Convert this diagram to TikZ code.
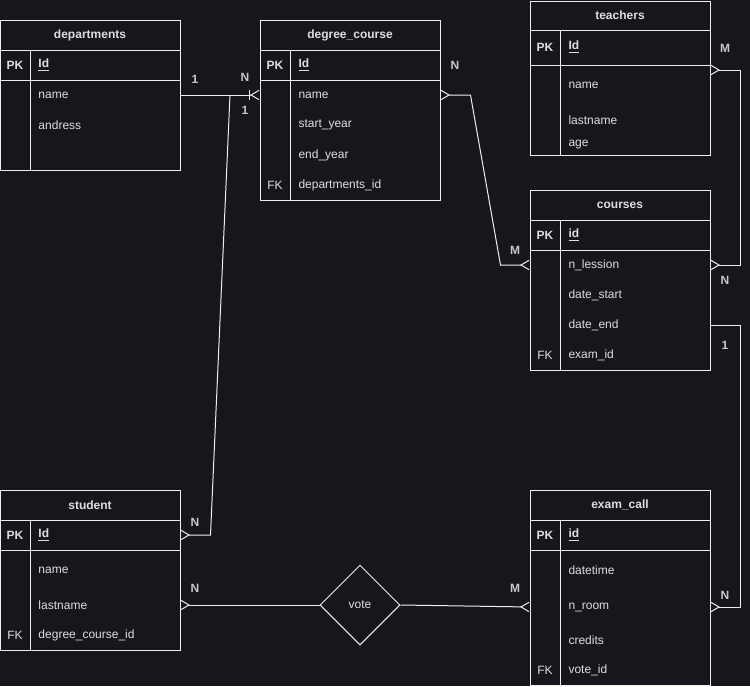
\documentclass[tikz,border=0pt]{standalone}
\usepackage{fontspec}
\setmainfont{Liberation Sans}
\usetikzlibrary{arrows.meta,positioning,fit,shapes.geometric}

\definecolor{bg}{RGB}{24,22,29}
\definecolor{ink}{RGB}{238,238,238}
\definecolor{txt}{RGB}{222,222,222}

\tikzset{
  crow/.tip={Straight Barb[reversed,length=6pt,width=7pt,line width=0.75pt]},
  tbl/.style={draw=ink, inner sep=0pt, line width=0.75pt},
  hdr/.style={font=\bfseries\fontsize{9}{11}\selectfont},
  key/.style={font=\bfseries\fontsize{9}{11}\selectfont},
  fld/.style={anchor=west, inner sep=0pt},
  card/.style={font=\bfseries\fontsize{9}{11}\selectfont, text=txt!90!black},
  rel/.style={draw=ink, line width=0.75pt}
}

\begin{document}
\begin{tikzpicture}[x=0.75pt,y=-0.75pt, line width=0.75pt,
  every node/.append style={text=txt, font=\fontsize{9}{11}\selectfont}]
\fill[bg] (0,0) rectangle (750,686);
\useasboundingbox (0,0) rectangle (750,686);

% departments
\node[tbl, fit={(0.5,20) (180,170)}] (dep) {};
\draw[ink] (0.5,50) -- (180,50) (0.5,80) -- (180,80) (30,50) -- (30,170);
\node[hdr] (dep-t) at (90,35) {departments};
\node[key] (dep-pk) at (15,65) {PK};
\node[fld, key] (dep-id) at (38,65) {\underline{Id}};
\node[fld] (dep-name) at (38,95) {name};
\node[fld] (dep-adr) at (38,125) {andress};

% degree_course
\node[tbl, fit={(260,20) (440,200)}] (deg) {};
\draw[ink] (260,50) -- (440,50) (260,80) -- (440,80) (290,50) -- (290,200);
\node[hdr] (deg-t) at (350,35) {degree\_course};
\node[key] (deg-pk) at (275,65) {PK};
\node[fld, key] (deg-id) at (298,65) {\underline{Id}};
\node[fld] (deg-name) at (298,95) {name};
\node[fld] (deg-sy) at (298,125) {start\_year};
\node[fld] (deg-ey) at (298,155) {end\_year};
\node (deg-fk) at (275,185) {FK};
\node[fld] (deg-dep) at (298,185) {departments\_id};

% teachers
\node[tbl, fit={(530,1) (710,155)}] (tch) {};
\draw[ink] (530,30) -- (710,30) (530,65) -- (710,65) (560,30) -- (560,155);
\node[hdr] (tch-t) at (620,15) {teachers};
\node[key] (tch-pk) at (545,47) {PK};
\node[fld, key] (tch-id) at (568,47) {\underline{Id}};
\node[fld] (tch-name) at (568,85) {name};
\node[fld] (tch-ln) at (568,120) {lastname};
\node[fld] (tch-age) at (568,145) {age};

% courses
\node[tbl, fit={(530,190) (710,370)}] (crs) {};
\draw[ink] (530,220) -- (710,220) (530,250) -- (710,250) (560,220) -- (560,370);
\node[hdr] (crs-t) at (620,205) {courses};
\node[key] (crs-pk) at (545,235) {PK};
\node[fld, key] (crs-id) at (568,235) {\underline{id}};
\node[fld] (crs-nl) at (568,265) {n\_lession};
\node[fld] (crs-ds) at (568,295) {date\_start};
\node[fld] (crs-de) at (568,325) {date\_end};
\node (crs-fk) at (545,355) {FK};
\node[fld] (crs-ex) at (568,355) {exam\_id};

% student
\node[tbl, fit={(0.5,490) (180,650)}] (stu) {};
\draw[ink] (0.5,520) -- (180,520) (0.5,550) -- (180,550) (30,520) -- (30,650);
\node[hdr] (stu-t) at (90,505) {student};
\node[key] (stu-pk) at (15,535) {PK};
\node[fld, key] (stu-id) at (38,535) {\underline{Id}};
\node[fld] (stu-name) at (38,570) {name};
\node[fld] (stu-ln) at (38,605) {lastname};
\node (stu-fk) at (15,635) {FK};
\node[fld] (stu-deg) at (38,635) {degree\_course\_id};

% exam_call
\node[tbl, fit={(530,490) (710,685)}] (exm) {};
\draw[ink] (530,520) -- (710,520) (530,550) -- (710,550) (560,520) -- (560,685);
\node[hdr] (exm-t) at (620,505) {exam\_call};
\node[key] (exm-pk) at (545,535) {PK};
\node[fld, key] (exm-id) at (568,535) {\underline{id}};
\node[fld] (exm-dt) at (568,570) {datetime};
\node[fld] (exm-room) at (568,607) {n\_room};
\node[fld] (exm-cr) at (568,640) {credits};
\node (exm-fk) at (545,670) {FK};
\node[fld] (exm-vote) at (568,670) {vote\_id};

% vote relation
\node[draw=ink, diamond, aspect=1, minimum size=60pt, inner sep=0pt] (vote) at (360,605) {vote};

% connectors
\coordinate (join) at (230,95);
\draw[rel, -{Bar[width=8pt,sep=0pt] crow}] (dep.east |- dep-name) -- (deg.west |- deg-name);
\draw[rel, crow-] (stu.east |- stu-id) -- ++(30,0) -- (join);
\draw[rel, crow-crow] (deg.east |- deg-name) -- ++(30,0) -- ++(30,170) -- (crs.west |- crs-nl);
\draw[rel, crow-crow] (tch.east |- 0,70) -| ++(30,195) -- (crs.east |- crs-nl);
\draw[rel, -crow] (crs.east |- crs-de) -| ++(30,282) -- (exm.east |- exm-room);
\draw[rel, crow-] (stu.east |- stu-ln) -- (vote.west);
\draw[rel, -crow] (vote.east) -- (exm.west |- exm-room);

% cardinalities
\node[card] (c1) at (195,79) {1};
\node[card] (c2) at (245,77) {N};
\node[card] (c3) at (245,110) {1};
\node[card] (c4) at (455,65) {N};
\node[card] (c5) at (515,250) {M};
\node[card] (c6) at (725,48) {M};
\node[card] (c7) at (725,280) {N};
\node[card] (c8) at (725,345) {1};
\node[card] (c9) at (725,595) {N};
\node[card] (c10) at (195,522) {N};
\node[card] (c11) at (195,588) {N};
\node[card] (c12) at (515,588) {M};
\end{tikzpicture}
\end{document}
